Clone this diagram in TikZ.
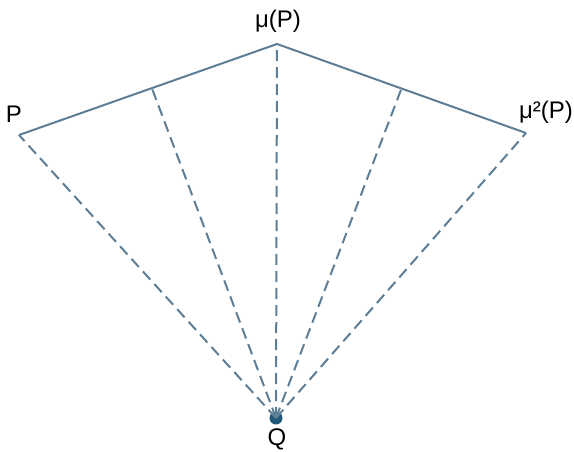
\documentclass[tikz,border=0pt]{standalone}
\usepackage{fontspec}
\setmainfont{Liberation Sans}
\usetikzlibrary{arrows.meta}
\usetikzlibrary{calc}
\definecolor{linegray}{HTML}{5E7E96}
\definecolor{dotblue}{HTML}{1F5878}

\begin{document}
\begin{tikzpicture}[x=1pt,y=-1pt]
                \useasboundingbox (0,0) rectangle (574,452);
                \coordinate (p) at (19,135);
                \coordinate (mp) at (277,44);
                \coordinate (mmp) at (526,133);
                \coordinate (l) at ($(p)!0.515!(mp)$);
                \coordinate (r) at ($(mp)!0.5!(mmp)$);

                \begin{scope}[every node/.style={font=\fontsize{24}{28}\selectfont,inner sep=0pt}]
                    \node (lp) at (14,114) {P};
                    \node (lmp) at (278,21) {μ(P)};
                    \node (lmmp) at (546,112) {μ²(P)};
                    \node (lq) at (277,439) {Q};
                \end{scope}

                \node[circle,fill=dotblue,inner sep=0pt,minimum size=13pt] (q) at (276,418) {};

                \begin{scope}[every path/.style={draw=linegray,line width=2pt,dash pattern=on 11pt off 6pt}]
                    \path (q.center) -- (p);
                    \path (q.center) -- (l);
                    \path (q.center) -- (mp);
                    \path (q.center) -- (r);
                    \path (q.center) -- (mmp);
                \end{scope}

                \draw[linegray,line width=2pt,line join=miter] (p) -- (mp) -- (mmp);
            \end{tikzpicture}
\end{document}
